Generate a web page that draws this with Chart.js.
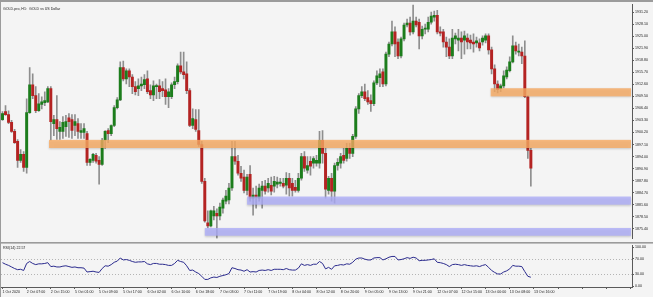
<!DOCTYPE html>
<html>
<head>
<meta charset="utf-8">
<script src="https://cdn.jsdelivr.net/npm/chart.js@4.4.1/dist/chart.umd.min.js"></script>
<style>
  html, body { margin: 0; padding: 0; background: #f4f4f4; }
  #wrap { position: relative; width: 653px; height: 297px; overflow: hidden; }
  canvas { position: absolute; left: 0; }
  #main { top: 0; }
  #rsi { top: 242px; }
</style>
</head>
<body>
<div id="wrap">
  <canvas id="main" width="653" height="242"></canvas>
  <canvas id="rsi" width="653" height="55"></canvas>
</div>
<script>
// ---- data (GOLD H1) ----
const open = [1903.5,1905.6,1904.8,1902.8,1900.5,1897.9,1893.0,1894.6,1891.2,1905.3,
  1912.5,1909.7,1905.8,1907.4,1907.9,1908.1,1911.5,1902.5,1903.5,1900.5,
  1900.5,1901.7,1904.0,1903.5,1902.0,1902.5,1900.2,1900.2,1899.9,1892.5,
  1893.0,1894.3,1893.0,1892.0,1898.2,1900.7,1899.9,1902.0,1906.6,1908.6,
  1916.9,1914.0,1916.1,1914.5,1912.0,1911.5,1912.2,1912.5,1914.0,1911.0,
  1909.9,1912.0,1912.2,1911.5,1911.2,1909.4,1909.4,1912.5,1913.3,1917.4,
  1915.8,1915.3,1911.0,1902.0,1903.5,1900.7,1897.1,1887.6,1876.9,1876.1,
  1878.7,1879.4,1878.7,1880.7,1882.5,1882.8,1885.9,1894.0,1892.8,1889.7,
  1888.7,1885.3,1889.4,1883.3,1884.1,1883.3,1885.3,1886.4,1885.9,1886.6,
  1886.4,1886.9,1887.1,1887.1,1886.6,1888.4,1887.1,1886.1,1885.3,1888.4,
  1894.0,1890.5,1892.8,1892.3,1892.3,1892.3,1898.2,1894.8,1885.3,1888.4,
  1885.1,1891.7,1892.3,1894.3,1893.5,1896.1,1894.8,1899.2,1906.3,1909.7,
  1910.7,1909.2,1908.4,1907.6,1913.0,1914.3,1915.8,1912.7,1920.4,1923.0,
  1926.1,1923.5,1919.9,1924.3,1927.9,1928.4,1926.1,1928.9,1928.6,1925.1,
  1926.8,1926.8,1928.6,1929.9,1930.4,1926.1,1926.1,1923.5,1922.2,1919.9,
  1924.3,1924.0,1924.5,1924.0,1924.5,1924.0,1923.5,1923.3,1923.3,1923.5,
  1924.0,1925.1,1921.5,1916.6,1912.7,1911.5,1912.2,1914.5,1916.1,1918.4,
  1922.5,1920.9,1920.9,1919.9,1909.4,1895.6];

const high = [1905.6,1907.1,1905.8,1903.3,1901.0,1898.4,1895.8,1895.3,1908.9,1916.9,
  1915.3,1912.0,1910.2,1909.4,1910.7,1912.0,1912.0,1904.6,1909.7,1903.0,
  1904.3,1904.6,1905.1,1904.8,1904.8,1903.8,1902.5,1902.5,1900.5,1893.5,
  1894.8,1894.8,1894.0,1898.7,1900.7,1901.2,1902.2,1907.1,1909.2,1918.4,
  1918.6,1916.6,1916.6,1915.1,1913.3,1914.0,1914.5,1915.1,1916.1,1912.5,
  1913.5,1912.7,1913.8,1913.3,1914.0,1911.5,1913.0,1914.5,1917.9,1920.9,
  1920.9,1918.4,1911.5,1906.3,1906.1,1906.1,1897.9,1888.4,1880.0,1880.2,
  1881.2,1880.5,1882.0,1883.3,1885.3,1887.1,1897.9,1897.9,1894.3,1891.5,
  1890.5,1889.4,1891.7,1885.9,1886.4,1886.9,1887.6,1887.9,1888.4,1888.7,
  1888.9,1888.7,1888.4,1888.4,1889.9,1889.7,1888.4,1887.9,1889.7,1894.8,
  1895.3,1894.0,1894.0,1894.0,1894.3,1900.5,1900.7,1896.1,1888.9,1889.7,
  1892.3,1893.5,1894.8,1896.1,1897.4,1897.4,1899.7,1906.9,1910.2,1912.0,
  1912.7,1911.0,1909.9,1913.5,1916.1,1916.6,1916.6,1920.9,1923.5,1928.9,
  1927.4,1924.3,1924.8,1928.4,1929.4,1929.9,1933.0,1929.9,1929.4,1927.6,
  1928.1,1929.9,1931.2,1931.5,1931.7,1927.4,1926.8,1924.8,1924.3,1926.8,
  1925.8,1926.8,1926.1,1926.3,1925.6,1925.3,1925.6,1924.8,1924.3,1925.1,
  1925.6,1925.6,1922.2,1917.6,1913.5,1912.7,1916.1,1917.1,1919.7,1925.1,
  1923.5,1923.0,1922.2,1923.8,1909.7,1896.1];

const low = [1903.3,1904.6,1902.5,1900.2,1897.4,1891.2,1892.5,1890.2,1889.7,1905.1,
  1908.9,1905.3,1905.6,1906.3,1907.1,1907.9,1898.2,1899.4,1898.4,1898.4,
  1898.7,1899.2,1898.9,1898.7,1899.4,1898.7,1898.7,1898.7,1891.7,1891.7,
  1892.5,1892.3,1886.9,1891.7,1896.1,1897.6,1899.4,1901.7,1906.3,1908.4,
  1913.5,1912.7,1912.0,1910.2,1909.9,1909.7,1911.0,1911.5,1910.2,1908.9,
  1908.4,1908.9,1908.9,1909.4,1907.4,1906.6,1908.9,1911.5,1912.7,1915.3,
  1914.0,1910.2,1901.7,1901.2,1900.5,1896.6,1887.1,1877.1,1875.6,1875.9,
  1877.7,1873.0,1877.7,1879.4,1881.8,1881.8,1885.3,1892.0,1889.2,1887.6,
  1884.6,1884.1,1882.5,1878.9,1880.7,1882.5,1880.7,1884.3,1884.8,1884.1,
  1884.8,1885.9,1886.4,1885.9,1884.3,1883.8,1883.8,1884.8,1884.8,1887.9,
  1890.2,1889.7,1889.2,1891.0,1891.5,1891.0,1892.3,1883.3,1884.3,1882.5,
  1882.0,1890.5,1891.0,1892.3,1892.8,1893.5,1894.0,1898.7,1905.1,1909.2,
  1908.4,1907.4,1905.6,1907.1,1912.5,1912.0,1912.0,1912.2,1919.7,1922.5,
  1919.7,1919.2,1919.4,1923.8,1927.4,1925.3,1925.6,1927.4,1921.7,1924.3,
  1925.6,1926.1,1928.1,1928.9,1925.6,1925.1,1922.2,1919.7,1919.2,1919.2,
  1923.0,1921.2,1919.2,1920.4,1921.7,1921.7,1920.9,1922.2,1921.2,1922.7,
  1923.3,1920.4,1915.3,1910.7,1910.4,1910.7,1911.7,1914.0,1915.8,1918.1,
  1920.4,1919.9,1917.9,1909.2,1893.5,1886.4];

const close = [1905.1,1904.8,1902.8,1900.5,1897.6,1893.0,1894.6,1891.2,1905.3,1912.5,
  1909.7,1905.8,1907.6,1908.1,1908.4,1911.5,1903.0,1903.5,1901.2,1901.5,
  1902.8,1903.0,1903.0,1900.7,1903.0,1900.5,1900.7,1901.2,1892.5,1893.3,
  1894.6,1892.8,1892.0,1898.2,1900.5,1899.9,1902.0,1906.6,1908.6,1916.9,
  1914.0,1916.1,1914.5,1912.0,1910.7,1912.2,1912.7,1913.8,1910.7,1909.9,
  1912.2,1912.2,1910.7,1911.0,1909.4,1910.7,1912.5,1913.3,1917.4,1915.8,
  1915.1,1911.0,1902.0,1903.8,1901.0,1897.1,1887.6,1877.4,1876.1,1880.0,
  1880.0,1878.7,1881.0,1882.8,1883.8,1885.9,1894.0,1892.8,1889.7,1888.4,
  1885.3,1888.7,1883.3,1884.1,1883.5,1885.9,1886.4,1885.1,1887.1,1885.1,
  1887.6,1887.4,1887.4,1886.4,1888.4,1885.9,1885.3,1885.3,1888.4,1894.0,
  1891.0,1891.7,1891.5,1893.5,1893.0,1898.2,1894.8,1885.6,1888.4,1885.1,
  1891.7,1892.5,1894.0,1893.0,1896.1,1894.8,1899.2,1906.3,1909.7,1910.7,
  1908.9,1908.1,1907.6,1913.0,1914.8,1915.3,1912.7,1920.4,1923.0,1926.1,
  1923.0,1919.9,1924.3,1927.9,1928.4,1926.1,1928.9,1927.9,1925.1,1926.8,
  1927.1,1928.6,1930.2,1930.4,1926.1,1925.8,1923.5,1922.2,1919.9,1924.5,
  1925.1,1924.5,1923.5,1925.1,1923.5,1923.3,1923.0,1923.8,1922.0,1924.5,
  1925.1,1921.5,1916.6,1912.7,1911.2,1912.2,1914.8,1916.3,1918.4,1922.5,
  1921.2,1921.2,1919.9,1909.4,1895.6,1891.0];

const rsi = [60,56,53,49,45,42,43,40,58,63,
  58,55,57,57,58,60,50,51,49,49,
  51,52,50,48,49,47,47,46,36,37,
  38,36,35,45,52,51,55,61,64,72,
  67,68,66,63,61,62,62,63,57,55,
  58,58,56,56,55,53,53,58,66,63,
  61,52,40,41,36,32,25,17,17,21,
  23,22,25,27,29,32,47,45,42,41,
  38,42,36,37,36,40,41,40,42,40,
  43,43,43,42,45,42,41,41,46,57,
  53,55,53,56,56,63,58,44,48,43,
  52,53,55,54,57,56,61,69,72,72,
  69,67,67,72,73,73,67,70,74,76,
  76,67,68,70,73,71,74,72,65,66,
  66,67,68,70,61,60,58,55,50,55,
  56,55,53,55,53,52,51,52,50,53,
  55,48,40,35,31,31,36,39,44,53,
  51,51,50,37,25,22.57];

// one time label every 8 bars
const timeLabels = ["1 Oct 2020","2 Oct 07:00","2 Oct 15:00","5 Oct 01:00","5 Oct 09:00",
  "5 Oct 17:00","6 Oct 02:00","6 Oct 10:00","6 Oct 18:00","7 Oct 03:00","7 Oct 11:00",
  "7 Oct 19:00","8 Oct 04:00","8 Oct 12:00","8 Oct 20:00","9 Oct 05:00","9 Oct 13:00",
  "9 Oct 21:00","12 Oct 07:00","12 Oct 15:00","13 Oct 00:00","13 Oct 08:00","13 Oct 16:00"];

const priceTicks = [1931.20,1928.10,1925.00,1921.90,1918.80,1915.70,1912.60,1909.50,
  1906.40,1903.30,1900.20,1897.10,1894.00,1890.90,1887.80,1884.70,1881.60,1878.50,1875.40];
const rsiTicks = [100, 70, 30, 0];
const rsiLevels = [70, 30];

// support / resistance zones: first bar, top and bottom price
const zoneStart = [15.4, 161.7, 81, 67];
const zoneTop = [1898.3, 1911.6, 1883.7, 1875.6];
const zoneBottom = [1896.2, 1909.5, 1881.6, 1873.6];
const zoneKind = ["res", "res", "sup", "sup"];

const SLOTS = 209; // bars plus the empty shift on the right

// ---------------------------------------------

const FONT = { family: "'Liberation Sans', Arial, sans-serif", size: 3.6 };
const BULL = "#1c7d1c";
const BEAR = "#b42322";
const WICK = "#8e8e8e";

const slotLabels = [];
for (let i = 0; i < SLOTS; i++) {
  slotLabels.push(i % 8 === 0 && timeLabels[i / 8] ? timeLabels[i / 8] : "");
}

const bodyData = open.map((o, i) => [o, close[i]]);
const wickData = low.map((l, i) => [l, high[i]]);
const bodyColors = open.map((o, i) => (close[i] >= o ? BULL : BEAR));

const frame = {
  id: "frame",
  beforeDraw(chart) {
    const c = chart.ctx;
    c.save();
    c.fillStyle = "#f4f4f4";
    c.fillRect(0, 0, chart.width, chart.height);
    c.restore();
  },
  afterDraw(chart, args, opts) {
    const c = chart.ctx;
    c.save();
    c.fillStyle = "#9b9b9b";
    c.fillRect(0, 0, 1, chart.height);
    c.fillRect(0, 0, chart.width, opts.topBar);
    c.fillStyle = "#1a1a1a";
    c.font = FONT.size + "px " + FONT.family;
    c.textBaseline = "middle";
    c.fillText(opts.title, 3, opts.titleY);
    c.restore();
  },
};

const zones = {
  id: "zones",
  afterDatasetsDraw(chart) {
    const c = chart.ctx;
    const x = chart.scales.x;
    const y = chart.scales.y;
    const area = chart.chartArea;
    c.save();
    zoneStart.forEach((s, k) => {
      const x0 = x.getPixelForValue(s);
      const y0 = y.getPixelForValue(zoneTop[k]);
      const y1 = y.getPixelForValue(zoneBottom[k]);
      c.shadowColor = "rgba(0,0,0,0.22)";
      c.shadowBlur = 2;
      c.shadowOffsetY = 1;
      c.fillStyle = zoneKind[k] === "res" ? "rgba(249,171,99,0.8)" : "rgba(174,174,249,0.8)";
      c.fillRect(x0, y0, area.right - 1 - x0, y1 - y0);
    });
    c.restore();
  },
};

const levels = {
  id: "levels",
  beforeDatasetsDraw(chart) {
    const c = chart.ctx;
    const y = chart.scales.y;
    const area = chart.chartArea;
    c.save();
    c.strokeStyle = "#b4b4b4";
    c.lineWidth = 1;
    c.setLineDash([1, 2]);
    rsiLevels.forEach((v) => {
      const py = Math.round(y.getPixelForValue(v)) + 0.5;
      c.beginPath();
      c.moveTo(area.left, py);
      c.lineTo(area.right, py);
      c.stroke();
    });
    c.restore();
  },
};

function rightAxis(min, max, ticks) {
  return {
    position: "right",
    min: min,
    max: max,
    afterFit: (s) => { s.width = 21; },
    afterBuildTicks: (s) => { s.ticks = ticks.map((v) => ({ value: v })); },
    border: { display: true, color: "#5a5a5a", width: 1 },
    grid: { display: true, drawOnChartArea: false, drawTicks: true, tickLength: 2, color: "#5a5a5a" },
    ticks: {
      color: "#1a1a1a",
      font: FONT,
      padding: 1,
      callback: (v) => Number(v).toFixed(2),
    },
  };
}

new Chart(document.getElementById("main"), {
  type: "bar",
  data: {
    labels: slotLabels,
    datasets: [
      {
        data: bodyData,
        backgroundColor: bodyColors,
        barThickness: 2.3,
        minBarLength: 1,
        grouped: false,
        order: 0,
      },
      {
        data: wickData,
        backgroundColor: WICK,
        barThickness: 1,
        grouped: false,
        order: 1,
      },
    ],
  },
  options: {
    responsive: false,
    animation: false,
    devicePixelRatio: 1,
    events: [],
    layout: { padding: { left: 1, top: 4, right: 0, bottom: 1 } },
    plugins: {
      legend: { display: false },
      tooltip: { enabled: false },
      frame: { title: "GOLD.pro, H1:  GOLD vs US Dollar", titleY: 9, topBar: 2 },
    },
    scales: {
      x: { display: false, offset: true, grid: { offset: false } },
      y: rightAxis(1872.8, 1933.3, priceTicks),
    },
  },
  plugins: [frame, zones],
});

new Chart(document.getElementById("rsi"), {
  type: "line",
  data: {
    labels: slotLabels,
    datasets: [
      {
        data: rsi,
        borderColor: "#2b2b8e",
        borderWidth: 1,
        pointRadius: 0,
        tension: 0,
      },
    ],
  },
  options: {
    responsive: false,
    animation: false,
    devicePixelRatio: 1,
    events: [],
    layout: { padding: { left: 1, top: 2, right: 0, bottom: 0 } },
    plugins: {
      legend: { display: false },
      tooltip: { enabled: false },
      frame: { title: "RSI(14) 22.57", titleY: 5.5, topBar: 1.6 },
    },
    scales: {
      x: {
        offset: true,
        afterFit: (s) => { s.height = 10; },
        border: { display: true, color: "#5a5a5a", width: 1 },
        grid: {
          offset: false,
          drawOnChartArea: false,
          drawTicks: true,
          tickLength: 2,
          color: (ctx) => (ctx.index % 8 === 0 ? "#5a5a5a" : "rgba(0,0,0,0)"),
        },
        ticks: {
          autoSkip: false,
          maxRotation: 0,
          align: "start",
          padding: 1,
          color: "#1a1a1a",
          font: FONT,
          callback: (v, i) => slotLabels[i],
        },
      },
      y: rightAxis(-2.5, 105, rsiTicks),
    },
  },
  plugins: [frame, levels],
});
</script>
</body>
</html>
